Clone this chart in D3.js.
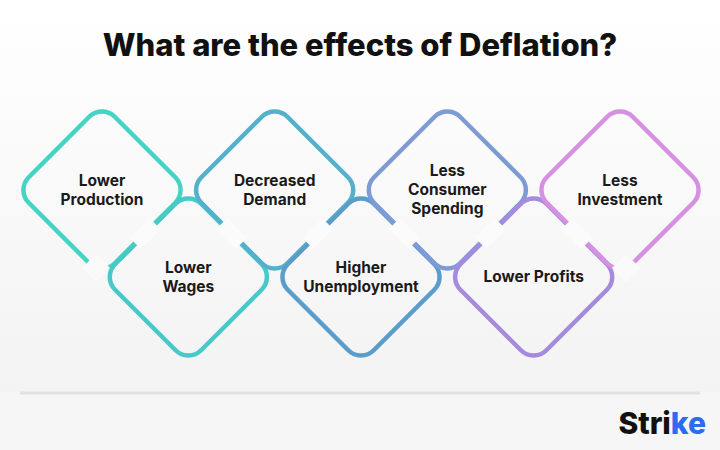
<!DOCTYPE html>
<html><head><meta charset="utf-8">
<script src="https://cdn.jsdelivr.net/npm/d3@7"></script>
<style>body{margin:0;background:#fff}svg{display:block}</style>
</head><body>
<svg id="c" width="720" height="450"></svg>
<script>
const labels = [["Lower","Production"],["Lower","Wages"],["Decreased","Demand"],["Higher","Unemployment"],["Less","Consumer","Spending"],["Lower Profits"],["Less","Investment"]];
const colors = ["#45d4c3","#48c9c8","#55b0cc","#5b9dca","#7f9bd6","#a58bdc","#d590e2"];
const order = d3.range(labels.length);

const svg = d3.select("#c");
const defs = svg.append("defs");
const bg = defs.append("linearGradient").attr("id","bg").attr("x1",0).attr("y1",0).attr("x2",0).attr("y2",1);
bg.append("stop").attr("offset","0").attr("stop-color","#ffffff");
bg.append("stop").attr("offset","1").attr("stop-color","#f1f1f2");
svg.append("rect").attr("width",720).attr("height",450).attr("fill","url(#bg)");
svg.append("rect").attr("x",0).attr("y",392).attr("width",720).attr("height",58).attr("fill","#f6f6f7");
svg.append("line").attr("x1",20).attr("x2",700).attr("y1",393).attr("y2",393).attr("stroke","#e2e2e4").attr("stroke-width",3);

svg.append("text").attr("x",360).attr("y",56).attr("text-anchor","middle")
  .attr("font-family","Inter, sans-serif").attr("font-weight",800).attr("font-size",31)
  .attr("fill","#111").text("What are the effects of Deflation?");

const x = d3.scaleLinear().domain([0,6]).range([102,620]);
const y = i => i%2===0 ? 190 : 277;
const half = 86, side = half*Math.SQRT2, rad = 18;

const g = svg.append("g");
order.forEach(i=>{
  const cx = x(i), cy = y(i);
  g.append("rect").attr("x",-side/2).attr("y",-side/2).attr("width",side).attr("height",side)
    .attr("rx",rad).attr("fill","none").attr("stroke",colors[i]).attr("stroke-width",4.5)
    .attr("transform",`translate(${cx},${cy}) rotate(45)`);
});
order.slice(0,-1).forEach(i=>{
  const mx = (x(i)+x(i+1))/2, my = (y(i)+y(i+1))/2;
  g.append("rect").attr("x",-14).attr("y",-8).attr("width",28).attr("height",16).attr("fill","#fbfbfb")
    .attr("transform",`translate(${mx},${my}) rotate(${y(i)<y(i+1)?-45:45})`);
});
g.append("rect").attr("x",-10).attr("y",-10).attr("width",20).attr("height",20).attr("fill","#fafafa")
  .attr("transform",`translate(${x(0)-6},${y(0)+78}) rotate(45)`);
g.append("rect").attr("x",-10).attr("y",-10).attr("width",20).attr("height",20).attr("fill","#fafafa")
  .attr("transform",`translate(${x(6)+6},${y(6)+78}) rotate(45)`);

order.forEach(i=>{
  const lines = labels[i], lh = 19;
  const t = svg.append("text").attr("text-anchor","middle").attr("font-family","Inter, sans-serif")
    .attr("font-weight",700).attr("font-size",15.5).attr("fill","#1a1a1a");
  lines.forEach((l,k)=>{
    t.append("tspan").attr("x",x(i)).attr("y",y(i)+5+(k-(lines.length-1)/2)*lh).text(l);
  });
});

const logo = svg.append("text").attr("x",706).attr("y",434).attr("text-anchor","end")
  .attr("font-family","Inter, sans-serif").attr("font-weight",800).attr("font-size",30).attr("fill","#111");
logo.append("tspan").text("Stri");
logo.append("tspan").attr("fill","#2d6bf0").text("ke");
</script>
</body></html>
